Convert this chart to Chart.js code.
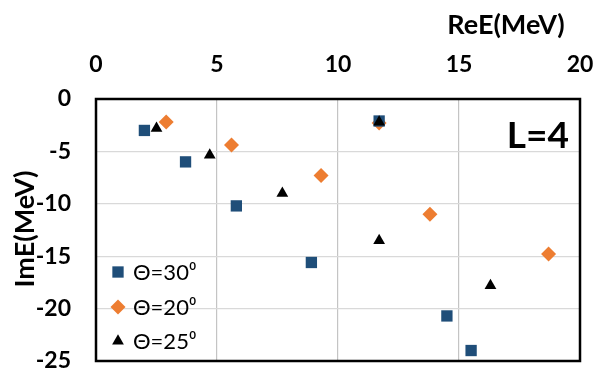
<!DOCTYPE html>
<html>
<head>
<meta charset="utf-8">
<script src="https://cdn.jsdelivr.net/npm/chart.js@4"></script>
<style>
html,body{margin:0;padding:0;overflow:hidden;background:#fff;}
#wrap{width:595px;height:369px;}
</style>
</head>
<body>
<div id="wrap"><canvas id="c" width="595" height="369"></canvas></div>
<script>
// ---- data ----
const xTicks = [0, 5, 10, 15, 20];
const yTicks = [0, -5, -10, -15, -20, -25];
const seriesNames = ["Θ=30⁰", "Θ=20⁰", "Θ=25⁰"];
const theta30X = [2.0, 3.7, 5.8, 8.9, 11.7, 14.5, 15.5];
const theta30Y = [-3.0, -6.0, -10.2, -15.6, -2.1, -20.7, -24.0];
const theta20X = [2.9, 5.6, 9.3, 11.7, 13.8, 18.7];
const theta20Y = [-2.2, -4.4, -7.3, -2.3, -11.0, -14.8];
const theta25X = [2.5, 4.7, 7.7, 11.7, 11.7, 16.3];
const theta25Y = [-2.8, -5.35, -9.0, -2.2, -13.5, -17.8];
const xTitle = "ReE(MeV)";
const yTitle = "ImE(MeV)";
const panelLabel = "L=4";

const toPts = (xs, ys) => xs.map((x, i) => ({x: x, y: ys[i]}));
const colors = ["#1F4E79", "#ED7D31", "#000000"];
const styles = [
  {pointStyle: "rect", radius: 8},
  {pointStyle: "rectRot", radius: 7.5},
  {pointStyle: "triangle", radius: 6.8}
];

const FONT = "Lato, 'Open Sans', sans-serif";

const overlay = {
  id: "overlay",
  beforeDatasetsDraw(chart) {
    const {ctx, chartArea: a} = chart;
    ctx.save();
    ctx.strokeStyle = "#000";
    ctx.lineWidth = 2.5;
    ctx.strokeRect(a.left, a.top, a.right - a.left, a.bottom - a.top);
    ctx.restore();
  },
  afterDraw(chart) {
    const {ctx, chartArea: a} = chart;
    ctx.save();
    ctx.fillStyle = "#000";
    // x title
    ctx.font = "bold 27px " + FONT;
    ctx.textAlign = "center";
    ctx.textBaseline = "alphabetic";
    ctx.fillText(xTitle, 506, 34);
    // y title
    ctx.save();
    ctx.translate(34, 229);
    ctx.rotate(-Math.PI / 2);
    ctx.fillText(yTitle, 0, 0);
    ctx.restore();
    // panel label
    ctx.font = "bold 37px " + FONT;
    ctx.textAlign = "right";
    ctx.fillText(panelLabel, 569, 148);
    // legend
    const ly = [a.bottom - 89, a.bottom - 54, a.bottom - 20];
    ctx.font = "22px " + FONT;
    ctx.textAlign = "left";
    ctx.textBaseline = "middle";
    seriesNames.forEach((name, i) => {
      ctx.fillStyle = colors[i];
      Chart.helpers.drawPoint(ctx, {pointStyle: styles[i].pointStyle, radius: styles[i].radius, rotation: 0, borderWidth: 0}, a.left + 22, ly[i]);
      ctx.fillStyle = "#000";
      ctx.fillText(name, a.left + 37, ly[i] + 1);
    });
    ctx.restore();
  }
};

const mk = (i, xs, ys, order) => ({
  label: seriesNames[i],
  data: toPts(xs, ys),
  backgroundColor: colors[i],
  borderColor: colors[i],
  borderWidth: 0,
  pointStyle: styles[i].pointStyle,
  pointRadius: styles[i].radius,
  pointHoverRadius: styles[i].radius,
  order: order
});

new Chart(document.getElementById("c"), {
  type: "scatter",
  data: {
    datasets: [
      mk(0, theta30X, theta30Y, 1),
      mk(1, theta20X, theta20Y, 2),
      mk(2, theta25X, theta25Y, 0)
    ]
  },
  options: {
    responsive: false,
    animation: false,
    layout: {padding: {top: 0, left: 0, right: 15, bottom: 5}},
    plugins: {legend: {display: false}, tooltip: {enabled: false}},
    scales: {
      x: {
        type: "linear",
        position: "top",
        min: xTicks[0],
        max: xTicks[xTicks.length - 1],
        afterBuildTicks(s) { s.ticks = xTicks.map(v => ({value: v})); },
        afterFit(s) { s.height = 99; s.paddingLeft = 0; s.paddingRight = 0; },
        border: {display: false},
        grid: {color: "#c4c4c4", lineWidth: 1.2, drawTicks: false},
        ticks: {color: "#000", padding: 21, font: {family: FONT, size: 23, weight: "bold"}}
      },
      y: {
        type: "linear",
        position: "left",
        min: yTicks[yTicks.length - 1],
        max: yTicks[0],
        afterBuildTicks(s) { s.ticks = yTicks.map(v => ({value: v})); },
        afterFit(s) { s.width = 96; s.paddingTop = 0; s.paddingBottom = 0; },
        border: {display: false},
        grid: {color: "#d9d9d9", lineWidth: 1.2, drawTicks: false},
        ticks: {color: "#000", padding: 25, font: {family: FONT, size: 23, weight: "bold"}}
      }
    }
  },
  plugins: [overlay]
});
</script>
</body>
</html>
